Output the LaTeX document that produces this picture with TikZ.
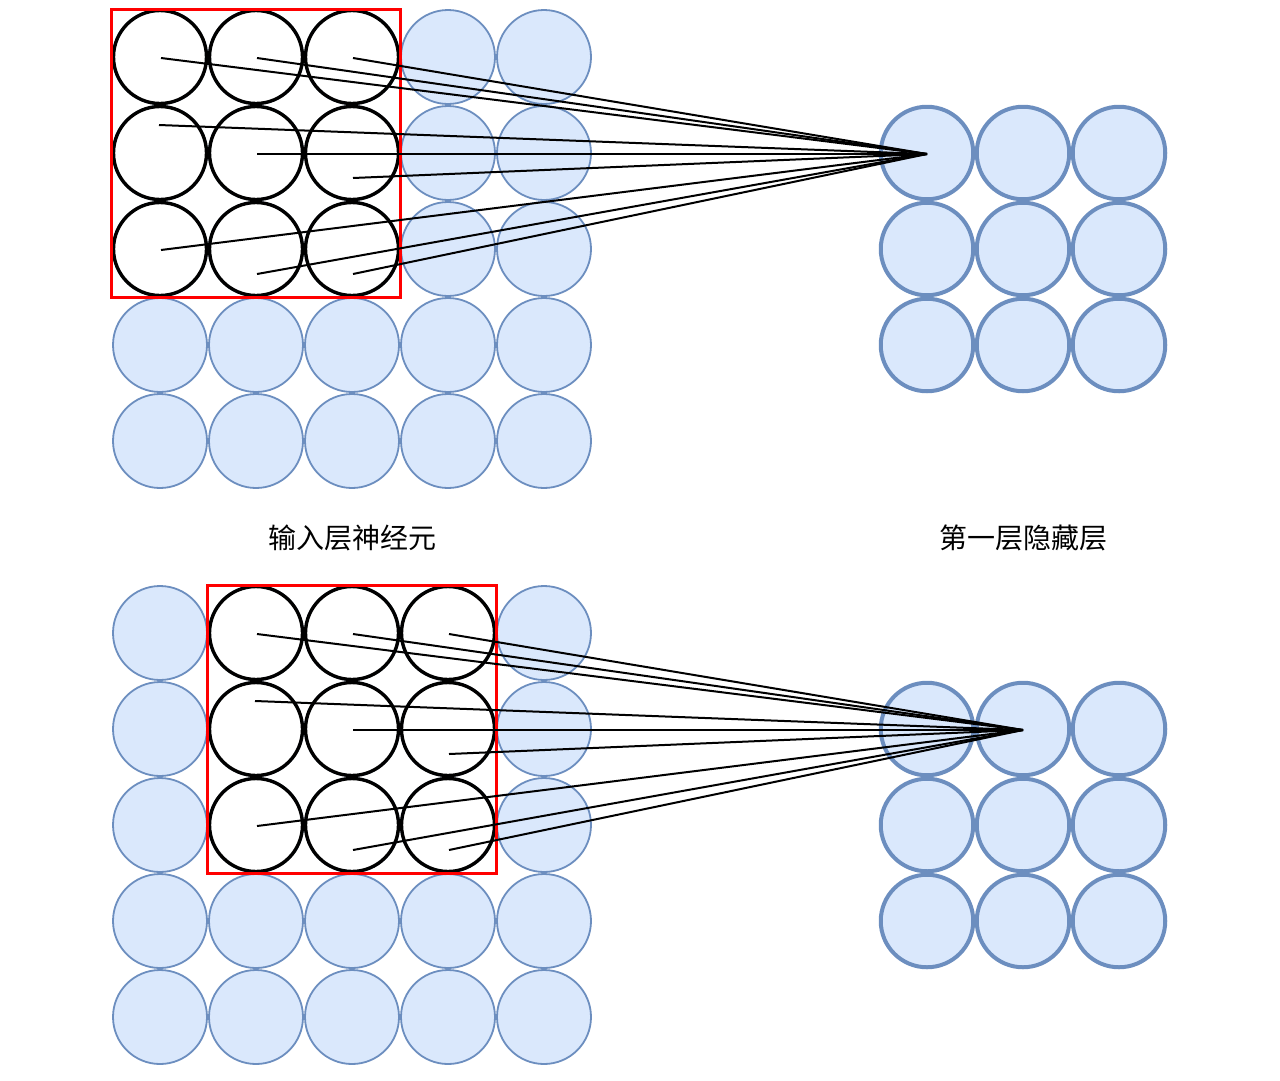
\documentclass[tikz,border=0pt]{standalone}
\usepackage{fontspec}
\newfontfamily\cjk{Noto Sans CJK SC}
\usetikzlibrary{calc}
\begin{document}
\begin{tikzpicture}[x=1pt,y=-1pt,
  inblue/.style={circle,inner sep=0pt,minimum size=94pt,draw=blueedge,fill=bluefill,line width=1.8pt},
  hidblue/.style={circle,inner sep=0pt,minimum size=92.5pt,draw=blueedge,fill=bluefill,line width=4pt},
  blackc/.style={circle,inner sep=0pt,minimum size=93pt,draw=black,fill=white,line width=3.4pt},
  redbox/.style={draw=red,line width=3pt},
  conn/.style={draw=black,line width=2pt},
  lbl/.style={font=\cjk\fontsize{28}{32}\selectfont,inner sep=0pt}]
\definecolor{bluefill}{HTML}{DAE8FC}
\definecolor{blueedge}{HTML}{6C8EBF}
\useasboundingbox (0,0) rectangle (1280,1080);
% ---------- top ----------
\foreach \r in {1,...,5}{
  \foreach \c in {1,...,5}{
    \node[inblue] (ta-\r-\c) at ({160+96*(\c-1)},{57+96*(\r-1)}) {};
  }
}
\foreach \r in {1,...,3}{
  \foreach \c in {1,...,3}{
    \node[blackc] (ta-\r-\c) at ({160+96*(\c-1)},{57+96*(\r-1)}) {};
    \node[hidblue] (th-\r-\c) at ({927+96*(\c-1)},{153+96*(\r-1)}) {};
  }
}
\node[inner sep=0pt,minimum width=289pt,minimum height=288pt,redbox] (tbox) at (255.5,153) {};
\coordinate (tt) at ($(th-1-1.center)+(0,1)$);
\draw[conn] ($(ta-1-1.center)+(1,1)$) -- (tt);
\draw[conn] ($(ta-1-2.center)+(1,1)$) -- (tt);
\draw[conn] ($(ta-1-3.center)+(1,1)$) -- (tt);
\draw[conn] ($(ta-2-1.center)+(-1,-28)$) -- (tt);
\draw[conn] ($(ta-2-2.center)+(1,1)$) -- (tt);
\draw[conn] ($(ta-2-3.center)+(1,25)$) -- (tt);
\draw[conn] ($(ta-3-1.center)+(1,1)$) -- (tt);
\draw[conn] ($(ta-3-2.center)+(1,25)$) -- (tt);
\draw[conn] ($(ta-3-3.center)+(1,25)$) -- (tt);
% ---------- bottom ----------
\foreach \r in {1,...,5}{
  \foreach \c in {1,...,5}{
    \node[inblue] (ba-\r-\c) at ({160+96*(\c-1)},{633+96*(\r-1)}) {};
  }
}
\foreach \r in {1,...,3}{
  \foreach \c in {2,...,4}{
    \node[blackc] (ba-\r-\c) at ({160+96*(\c-1)},{633+96*(\r-1)}) {};
  }
  \foreach \c in {1,...,3}{
    \node[hidblue] (bh-\r-\c) at ({927+96*(\c-1)},{729+96*(\r-1)}) {};
  }
}
\node[inner sep=0pt,minimum width=289pt,minimum height=288pt,redbox] (bbox) at (351.5,729) {};
\coordinate (bt) at ($(bh-1-2.center)+(0,1)$);
\draw[conn] ($(ba-1-2.center)+(1,1)$) -- (bt);
\draw[conn] ($(ba-1-3.center)+(1,1)$) -- (bt);
\draw[conn] ($(ba-1-4.center)+(1,1)$) -- (bt);
\draw[conn] ($(ba-2-2.center)+(-1,-28)$) -- (bt);
\draw[conn] ($(ba-2-3.center)+(1,1)$) -- (bt);
\draw[conn] ($(ba-2-4.center)+(1,25)$) -- (bt);
\draw[conn] ($(ba-3-2.center)+(1,1)$) -- (bt);
\draw[conn] ($(ba-3-3.center)+(1,25)$) -- (bt);
\draw[conn] ($(ba-3-4.center)+(1,25)$) -- (bt);
% ---------- labels ----------
\node[lbl] (linput) at (352,538) {输入层神经元};
\node[lbl] (lhidden) at (1023,538) {第一层隐藏层};
\end{tikzpicture}
\end{document}
